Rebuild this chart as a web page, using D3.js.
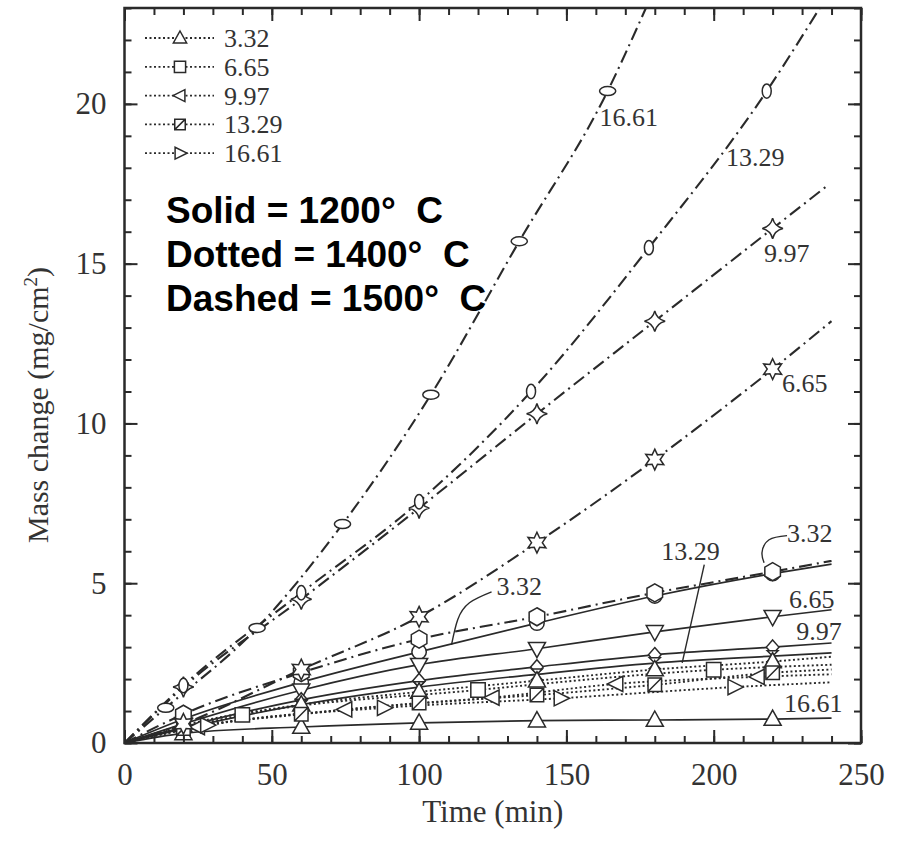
<!DOCTYPE html>
<html><head><meta charset="utf-8">
<script src="https://cdn.jsdelivr.net/npm/d3@7/dist/d3.min.js"></script>
<style>body{margin:0;background:#fff}</style>
</head><body><svg id="c" width="902" height="845"></svg>
<script>
// ---------------- DATA ----------------
// Solid = 1200 °C
const tSolid = [0,20,60,100,140,180,220,240];
const solid_332  = [0,0.75,1.9,2.85,3.75,4.6,5.3,5.6];
const solid_665  = [0,0.6,1.65,2.45,2.95,3.48,3.95,4.17];
const solid_997  = [0,0.5,1.35,1.95,2.38,2.76,3.0,3.13];
const solid_1329 = [0,0.45,1.2,1.75,2.15,2.5,2.72,2.82];
const solid_1661 = [0,0.3,0.5,0.63,0.7,0.72,0.75,0.78];
// Dotted = 1400 °C
const tDot332 = [0,20,60,100,140,180,220,240];
const dot_332  = [0,0.55,1.2,1.6,1.95,2.3,2.55,2.7];
const tDot665 = [0,40,120,200,240];
const dot_665  = [0,0.88,1.66,2.29,2.45];
const tDot997 = [0,25,75,125,167,215,240];
const dot_997  = [0,0.5,1.05,1.42,1.85,2.07,2.15];
const tDot1329 = [0,20,60,100,140,180,220,240];
const dot_1329 = [0,0.45,0.9,1.25,1.5,1.82,2.2,2.3];
const tDot1661 = [0,28,88,148,207,240];
const dot_1661 = [0,0.56,1.1,1.4,1.75,1.9];
// Dashed = 1500 °C
const tDash332 = [0,20,60,100,140,180,220,240];
const dash_332  = [0,0.9,2.2,3.25,3.95,4.7,5.36,5.7];
const tDash665 = [0,20,60,100,140,180,220,240];
const dash_665  = [0,0.6,2.3,3.95,6.27,8.87,11.7,13.2];
const tDash997 = [0,20,60,100,140,180,220,238];
const dash_997  = [0,1.75,4.5,7.35,10.3,13.2,16.1,17.4];
const tDash1329 = [0,20,60,100,138,178,218,236];
const dash_1329 = [0,1.8,4.7,7.55,11.0,15.5,20.4,23];
const tDash1661 = [0,14,45,74,104,134,164,177];
const dash_1661 = [0,1.1,3.6,6.85,10.9,15.7,20.4,23];

const xTicks = [0,50,100,150,200,250];
const yTicks = [0,5,10,15,20];
const legendLabels = ["3.32","6.65","9.97","13.29","16.61"];
const legendMarkers = ["triUp","square","triLeft","xsquare","triRight"];
const noteLines = ["Solid = 1200°\u00a0\u00a0C","Dotted = 1400°\u00a0\u00a0C","Dashed = 1500°\u00a0\u00a0C"];

// curve labels: [text, t, v]
const curveLabels = [
  ["16.61",161.2,19.3],["13.29",204.2,18.06],["9.97",217.1,15.05],["6.65",223.2,10.97],
  ["3.32",224.9,6.3],["13.29",182.2,5.74],["6.65",225.6,4.23],["9.97",228,3.23],
  ["16.61",223.9,0.97],["3.32",126.3,4.64]
];
const leaderA = [[124.6,4.73],[117.1,4.39],[113.1,3.86],[111,3.07]];
const leaderB = [[224.9,6.49],[218.8,6.36],[216.4,5.96],[217.1,5.64]];
const leaderC = [[196.8,5.58],[189.3,2.51]];

// ---------------- SERIES TABLE ----------------
const series = [
  {t:tSolid,v:solid_332,style:"solid",m:"circle"},
  {t:tSolid,v:solid_665,style:"solid",m:"triDown"},
  {t:tSolid,v:solid_997,style:"solid",m:"diamond"},
  {t:tSolid,v:solid_1329,style:"solid",m:"hourglass"},
  {t:tSolid,v:solid_1661,style:"solid",m:"triUp"},
  {t:tDot332,v:dot_332,style:"dot",m:"triUp"},
  {t:tDot665,v:dot_665,style:"dot",m:"square"},
  {t:tDot997,v:dot_997,style:"dot",m:"triLeft"},
  {t:tDot1329,v:dot_1329,style:"dot",m:"xsquare"},
  {t:tDot1661,v:dot_1661,style:"dot",m:"triRight"},
  {t:tDash332,v:dash_332,style:"dash",m:"hexagon"},
  {t:tDash665,v:dash_665,style:"dash",m:"star6"},
  {t:tDash997,v:dash_997,style:"dash",m:"star4"},
  {t:tDash1329,v:dash_1329,style:"dash",m:"vellipse"},
  {t:tDash1661,v:dash_1661,style:"dash",m:"hellipse"}
];

// ---------------- DRAW ----------------
const svg = d3.select("#c");
const x = d3.scaleLinear().domain([0,250]).range([124.5,861]);
const y = d3.scaleLinear().domain([0,23]).range([743,8]);
const ink = "#2a2a2a";
const serif = "'Liberation Serif','Times New Roman',serif";

function markerPath(type, s){
  const p = d3.path();
  if(type==="circle"){ p.arc(0,0,s*0.8,0,2*Math.PI); p.closePath(); }
  else if(type==="hexagon"){ for(let k=0;k<6;k++){const a=-Math.PI/2+k*Math.PI/3; const px=s*Math.cos(a), py=s*Math.sin(a); k?p.lineTo(px,py):p.moveTo(px,py);} p.closePath(); }
  else if(type==="triUp"){ p.moveTo(0,-s); p.lineTo(s*0.95,s*0.7); p.lineTo(-s*0.95,s*0.7); p.closePath(); }
  else if(type==="triDown"){ p.moveTo(0,s); p.lineTo(s*0.95,-s*0.7); p.lineTo(-s*0.95,-s*0.7); p.closePath(); }
  else if(type==="triLeft"){ p.moveTo(-s,0); p.lineTo(s*0.7,-s*0.85); p.lineTo(s*0.7,s*0.85); p.closePath(); }
  else if(type==="triRight"){ p.moveTo(s,0); p.lineTo(-s*0.7,-s*0.85); p.lineTo(-s*0.7,s*0.85); p.closePath(); }
  else if(type==="square"){ const h=s*0.8; p.rect(-h,-h,2*h,2*h); }
  else if(type==="xsquare"){ const h=s*0.75; p.rect(-h,-h,2*h,2*h); p.moveTo(-h,h); p.lineTo(h,-h); }
  else if(type==="diamond"){ p.moveTo(0,-s*0.8); p.lineTo(s*0.7,0); p.lineTo(0,s*0.8); p.lineTo(-s*0.7,0); p.closePath(); }
  else if(type==="hourglass"){ const h=s*0.6; p.moveTo(-h,-h); p.lineTo(h,-h); p.lineTo(-h,h); p.lineTo(h,h); p.closePath(); }
  else if(type==="star6"){ for(let k=0;k<12;k++){const r=k%2?s*0.6:s*1.15; const a=-Math.PI/2+k*Math.PI/6; const px=r*Math.cos(a), py=r*Math.sin(a); k?p.lineTo(px,py):p.moveTo(px,py);} p.closePath(); }
  else if(type==="star4"){ const r=s*1.15, c=s*0.22; p.moveTo(0,-r); p.quadraticCurveTo(c,-c,r,0); p.quadraticCurveTo(c,c,0,r); p.quadraticCurveTo(-c,c,-r,0); p.quadraticCurveTo(-c,-c,0,-r); p.closePath(); }
  else if(type==="vellipse"){ return `M0,${-s*0.8} A${s*0.5},${s*0.8} 0 1,1 0,${s*0.8} A${s*0.5},${s*0.8} 0 1,1 0,${-s*0.8} Z`; }
  else if(type==="hellipse"){ return `M${-s*0.9},0 A${s*0.9},${s*0.5} 0 1,1 ${s*0.9},0 A${s*0.9},${s*0.5} 0 1,1 ${-s*0.9},0 Z`; }
  return p.toString();
}

const dashOf = {solid:null, dot:"2,2.5", dash:"13,5,2,5"};
const widthOf = {solid:1.7, dot:1.9, dash:2.1};

const gLines = svg.append("g");
const line = d3.line().x(d=>x(d[0])).y(d=>y(d[1])).curve(d3.curveMonotoneX);
series.forEach(s=>{
  const pts = s.t.map((t,i)=>[t,s.v[i]]);
  gLines.append("path").attr("d",line(pts)).attr("fill","none")
    .attr("stroke",ink).attr("stroke-width",widthOf[s.style])
    .attr("stroke-dasharray",dashOf[s.style]);
});
const gMarks = svg.append("g");
series.forEach(s=>{
  const pts = s.t.map((t,i)=>[t,s.v[i]]).slice(1,-1);
  gMarks.selectAll(null).data(pts).enter().append("path")
    .attr("transform",d=>`translate(${x(d[0])},${y(d[1])})`)
    .attr("d",markerPath(s.m,9))
    .attr("fill","#fff").attr("stroke",ink).attr("stroke-width",1.5);
});

// frame & axes
const ax = svg.append("g").attr("font-family",serif);
function styleAxis(g){ g.select(".domain").remove(); g.selectAll("line").attr("stroke",ink).attr("stroke-width",2); g.selectAll("text").attr("font-size",31).attr("fill","#333").attr("font-family",serif); }
const xMinor = d3.range(0,251,10), yMinor = d3.range(0,23.01,1);
ax.append("g").attr("transform","translate(0,743)").call(d3.axisBottom(x).tickValues(xMinor).tickSize(-7).tickFormat("")).call(styleAxis);
ax.append("g").attr("transform","translate(0,743)").call(d3.axisBottom(x).tickValues(xTicks).tickSize(-13).tickPadding(20).tickFormat(d3.format("d"))).call(styleAxis);
ax.append("g").attr("transform","translate(0,8)").call(d3.axisTop(x).tickValues(xMinor).tickSize(-7).tickFormat("")).call(styleAxis);
ax.append("g").attr("transform","translate(0,8)").call(d3.axisTop(x).tickValues(xTicks).tickSize(-13).tickFormat("")).call(styleAxis);
ax.append("g").attr("transform","translate(124.5,0)").call(d3.axisLeft(y).tickValues(yMinor).tickSize(-7).tickFormat("")).call(styleAxis);
ax.append("g").attr("transform","translate(124.5,0)").call(d3.axisLeft(y).tickValues(yTicks).tickSize(-13).tickPadding(18).tickFormat(d3.format("d"))).call(styleAxis);
ax.append("g").attr("transform","translate(861,0)").call(d3.axisRight(y).tickValues(yMinor).tickSize(-7).tickFormat("")).call(styleAxis);
ax.append("g").attr("transform","translate(861,0)").call(d3.axisRight(y).tickValues(yTicks).tickSize(-13).tickFormat("")).call(styleAxis);
svg.append("rect").attr("x",x(0)).attr("y",y(23)).attr("width",x(250)-x(0)).attr("height",y(0)-y(23))
  .attr("fill","none").attr("stroke",ink).attr("stroke-width",2.5);

// axis titles
svg.append("text").attr("x",(x(0)+x(250))/2).attr("y",822).attr("text-anchor","middle")
  .attr("font-family",serif).attr("font-size",31).attr("fill","#333").text("Time (min)");
const yt = svg.append("text").attr("transform","translate(48,405) rotate(-90)").attr("text-anchor","middle")
  .attr("font-family",serif).attr("font-size",30).attr("fill","#333");
yt.append("tspan").text("Mass change (mg/cm");
yt.append("tspan").attr("dy",-11).attr("font-size",19).text("2");
yt.append("tspan").attr("dy",11).text(")");

// legend
const lg = svg.append("g");
legendLabels.forEach((lab,i)=>{
  const yy = 38 + i*28.8;
  lg.append("line").attr("x1",145).attr("x2",214).attr("y1",yy).attr("y2",yy)
    .attr("stroke",ink).attr("stroke-width",1.8).attr("stroke-dasharray","2,2.5");
  lg.append("path").attr("transform",`translate(180,${yy})`).attr("d",markerPath(legendMarkers[i],7))
    .attr("fill","#fff").attr("stroke",ink).attr("stroke-width",1.5);
  lg.append("text").attr("x",224).attr("y",yy+9).attr("font-family",serif).attr("font-size",26)
    .attr("fill","#333").text(lab);
});

// notes
noteLines.forEach((t,i)=>{
  svg.append("text").attr("x",166).attr("y",223+i*44).attr("font-family","'Liberation Sans',Arial,sans-serif")
    .attr("font-weight","bold").attr("font-size",37).attr("fill","#000").text(t);
});

// curve labels & leaders
curveLabels.forEach(([t,tx,tv])=>{
  svg.append("text").attr("x",x(tx)).attr("y",y(tv)).attr("font-family",serif).attr("font-size",26)
    .attr("fill","#333").text(t);
});
const lead = d3.line().x(d=>x(d[0])).y(d=>y(d[1])).curve(d3.curveNatural);
[leaderA,leaderB,leaderC].forEach(L=>{
  svg.append("path").attr("d",lead(L)).attr("fill","none").attr("stroke",ink).attr("stroke-width",1.4);
});
</script></body></html>
